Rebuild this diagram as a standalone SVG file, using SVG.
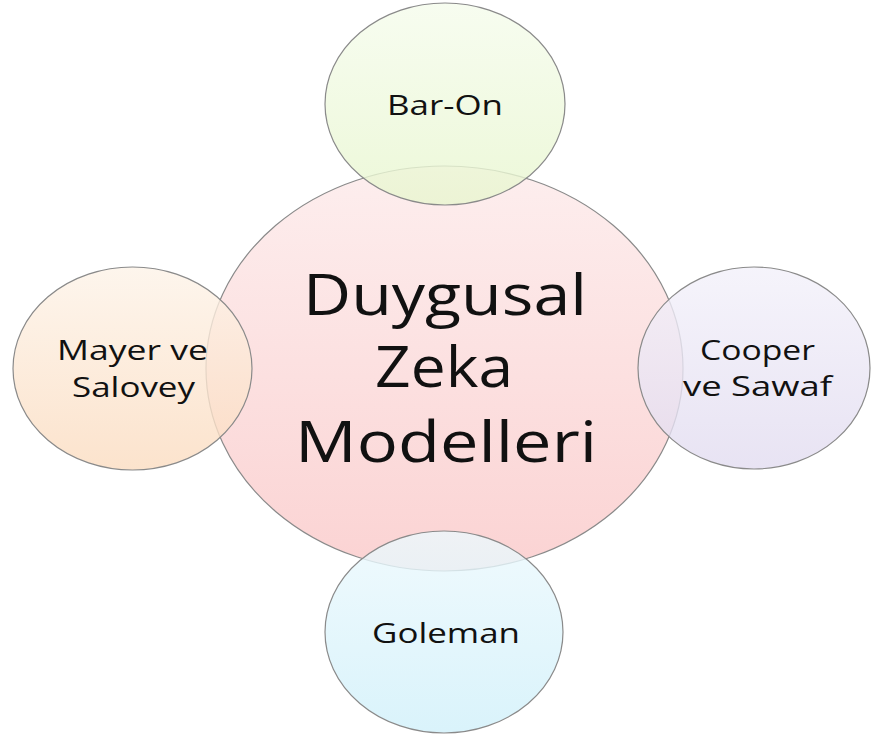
<svg xmlns="http://www.w3.org/2000/svg" width="871" height="739" viewBox="0 0 871 739">
<defs>
<linearGradient id="gPink" x1="0" y1="0" x2="0" y2="1"><stop offset="0" stop-color="#fdeeee"/><stop offset="1" stop-color="#fbd3d3"/></linearGradient>
<linearGradient id="gGreen" x1="0" y1="0" x2="0" y2="1"><stop offset="0" stop-color="#f5fcec"/><stop offset="1" stop-color="#e8f6cf"/></linearGradient>
<linearGradient id="gOrange" x1="0" y1="0" x2="0" y2="1"><stop offset="0" stop-color="#fdf3e8"/><stop offset="1" stop-color="#fbdcc0"/></linearGradient>
<linearGradient id="gPurple" x1="0" y1="0" x2="0" y2="1"><stop offset="0" stop-color="#f3f1fa"/><stop offset="1" stop-color="#e2dcf0"/></linearGradient>
<linearGradient id="gBlue" x1="0" y1="0" x2="0" y2="1"><stop offset="0" stop-color="#ecf9fd"/><stop offset="1" stop-color="#d0f0fa"/></linearGradient>
</defs>
<style>
.shape{stroke:#8a8a8a;stroke-width:1.2}
.sat{fill-opacity:0.8}
text{font-family:"Open Sans","Liberation Sans",sans-serif;fill:#111;text-anchor:middle}
.big{font-size:56px}
.small{font-size:28px}
</style>
<rect width="871" height="739" fill="#ffffff"/>
<g id="connectors"></g>
<g id="center">
<ellipse class="shape" cx="444.5" cy="368.5" rx="238.5" ry="202.5" fill="url(#gPink)"/>
<text class="big" x="445" y="315" textLength="284" lengthAdjust="spacingAndGlyphs">Duygusal</text>
<text class="big" x="444" y="387" textLength="138" lengthAdjust="spacingAndGlyphs">Zeka</text>
<text class="big" x="446" y="462" textLength="302" lengthAdjust="spacingAndGlyphs">Modelleri</text>
</g>
<g id="baron">
<ellipse class="shape sat" cx="445" cy="104" rx="120" ry="101" fill="url(#gGreen)"/>
<text class="small" x="445" y="115" textLength="116" lengthAdjust="spacingAndGlyphs">Bar-On</text>
</g>
<g id="mayer">
<ellipse class="shape sat" cx="132.5" cy="368.5" rx="119.5" ry="101.5" fill="url(#gOrange)"/>
<text class="small" x="132.5" y="360" textLength="151" lengthAdjust="spacingAndGlyphs">Mayer ve</text>
<text class="small" x="133.5" y="397" textLength="123" lengthAdjust="spacingAndGlyphs">Salovey</text>
</g>
<g id="cooper">
<ellipse class="shape sat" cx="754" cy="368" rx="116" ry="101" fill="url(#gPurple)"/>
<text class="small" x="757.5" y="360" textLength="115" lengthAdjust="spacingAndGlyphs">Cooper</text>
<text class="small" x="757.5" y="396" textLength="149" lengthAdjust="spacingAndGlyphs">ve Sawaf</text>
</g>
<g id="goleman">
<ellipse class="shape sat" cx="444" cy="632" rx="119" ry="101" fill="url(#gBlue)"/>
<text class="small" x="446" y="643" textLength="148" lengthAdjust="spacingAndGlyphs">Goleman</text>
</g>
</svg>
